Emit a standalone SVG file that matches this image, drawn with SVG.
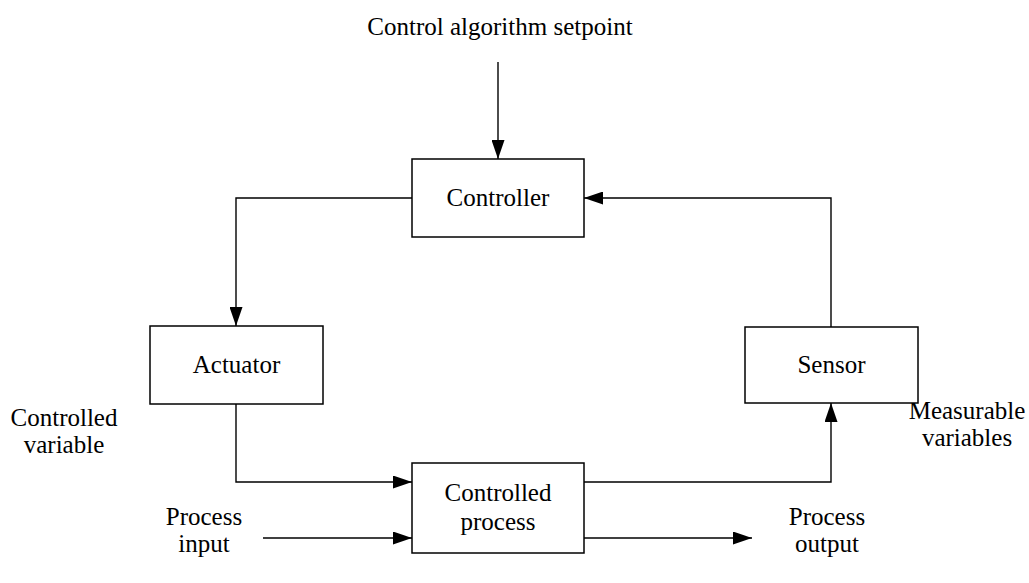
<svg xmlns="http://www.w3.org/2000/svg" width="1029" height="583" viewBox="0 0 1029 583">
  <style>
    .box { fill: #ffffff; stroke: #000000; stroke-width: 1.5; }
    .wire { fill: none; stroke: #000000; stroke-width: 1.4; marker-end: url(#arrow); }
    text { font-family: "Liberation Serif", "Times New Roman", serif; font-size: 25px; fill: #000000; text-anchor: middle; }
  </style>
  <defs>
    <marker id="arrow" markerUnits="userSpaceOnUse" markerWidth="19" markerHeight="13" refX="19" refY="6.5" orient="auto">
      <path d="M0,0 L19,6.5 L0,13 z" fill="#000000"/>
    </marker>
  </defs>
  <rect width="1029" height="583" fill="#ffffff"/>

  <!-- free labels -->
  <text x="500" y="35">Control algorithm setpoint</text>
  <text x="64" y="426">Controlled</text>
  <text x="64" y="453">variable</text>
  <text x="967" y="419">Measurable</text>
  <text x="967" y="446">variables</text>
  <text x="204" y="525">Process</text>
  <text x="204" y="552">input</text>
  <text x="827" y="525">Process</text>
  <text x="827" y="552">output</text>

  <!-- connectors -->
  <g id="connectors">
    <path class="wire" d="M498,62 L498,159"/>
    <path class="wire" d="M412,198 L236,198 L236,326"/>
    <path class="wire" d="M236,404 L236,482 L412,482"/>
    <path class="wire" d="M263,538 L412,538"/>
    <path class="wire" d="M584,538 L752,538"/>
    <path class="wire" d="M584,482 L831,482 L831,403"/>
    <path class="wire" d="M831,327 L831,198 L584,198"/>
  </g>

  <g id="controller">
    <rect class="box" x="412" y="159" width="172" height="78"/>
    <text x="498" y="206">Controller</text>
  </g>
  <g id="actuator">
    <rect class="box" x="150" y="326" width="173" height="78"/>
    <text x="236.5" y="373">Actuator</text>
  </g>
  <g id="sensor">
    <rect class="box" x="745" y="327" width="173" height="76"/>
    <text x="831.5" y="373">Sensor</text>
  </g>
  <g id="controlled-process">
    <rect class="box" x="412" y="463" width="172" height="90"/>
    <text x="498" y="501">Controlled</text>
    <text x="498" y="530">process</text>
  </g>
</svg>
